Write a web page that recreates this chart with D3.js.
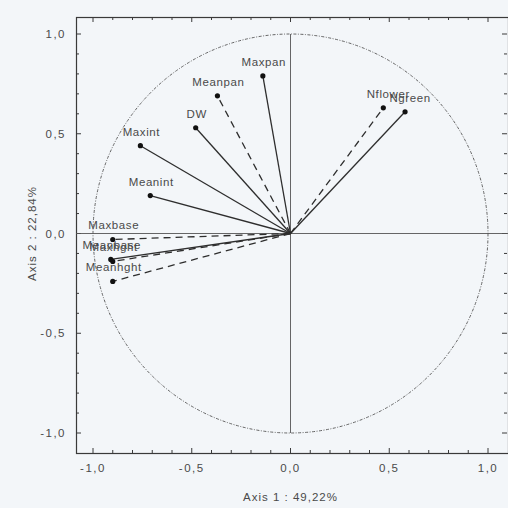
<!DOCTYPE html>
<html><head><meta charset="utf-8">
<script src="https://cdn.jsdelivr.net/npm/d3@7/dist/d3.min.js"></script>
<style>
html,body{margin:0;padding:0;background:#f3f6f9;}
svg{display:block;}
text{font-family:"Liberation Sans",Arial,sans-serif;fill:#4a4a4a;}
</style></head>
<body>
<svg id="c" width="508" height="508"></svg>
<script>
const variables = ["Maxpan","Meanpan","DW","Maxint","Meanint","Nflower","Ngreen","Maxbase","Meanbase","Maxhght","Meanhght"];
const axis1 = [-0.14,-0.37,-0.48,-0.76,-0.71,0.47,0.58,-0.90,-0.91,-0.90,-0.90];
const axis2 = [0.79,0.69,0.53,0.44,0.19,0.63,0.61,-0.03,-0.13,-0.14,-0.24];
const dashed = [false,true,false,false,false,true,false,true,false,true,true];
const tickValues = [-1.0,-0.5,0.0,0.5,1.0];
const tickLabels = ["-1,0","-0,5","0,0","0,5","1,0"];
const xTitle = "Axis 1 : 49,22%";
const yTitle = "Axis 2 : 22,84%";

const svg = d3.select("#c");
const L=76, R=508, T=17, B=453;
const x = d3.scaleLinear().domain([-1,1]).range([93,488]);
const y = d3.scaleLinear().domain([-1,1]).range([433,34]);

const ink="#3a3a3a";
svg.append("rect").attr("x",L+0.5).attr("y",T+0.5).attr("width",R-L).attr("height",B-T)
  .attr("fill","none").attr("stroke",ink).attr("stroke-width",1.2);

const minor = d3.range(-10,11).map(i=>i/10);
minor.forEach(v=>{
  const len = Math.abs(v*2-Math.round(v*2))<1e-6 ? 5 : 3;
  const px=x(v), py=y(v);
  svg.append("line").attr("x1",px).attr("x2",px).attr("y1",B).attr("y2",B-len).attr("stroke",ink);
  svg.append("line").attr("x1",px).attr("x2",px).attr("y1",T).attr("y2",T+len).attr("stroke",ink);
  svg.append("line").attr("y1",py).attr("y2",py).attr("x1",L).attr("x2",L+len).attr("stroke",ink);
  svg.append("line").attr("y1",py).attr("y2",py).attr("x1",R-1).attr("x2",R-1-len).attr("stroke",ink);
});

tickValues.forEach((v,i)=>{
  svg.append("text").attr("x",x(v)).attr("y",472).attr("text-anchor","middle")
    .attr("font-size",11.5).attr("letter-spacing",1.5).text(tickLabels[i]);
  svg.append("text").attr("x",66).attr("y",y(v)+4).attr("text-anchor","end")
    .attr("font-size",11.5).attr("letter-spacing",1.5).text(tickLabels[i]);
});
svg.append("text").attr("x",x(0)).attr("y",501).attr("text-anchor","middle").attr("font-size",11.5).attr("letter-spacing",1).text(xTitle);
svg.append("text").attr("transform",`translate(36,${y(0)}) rotate(-90)`).attr("text-anchor","middle").attr("font-size",11.5).attr("letter-spacing",1).text(yTitle);

svg.append("line").attr("x1",L).attr("x2",R).attr("y1",y(0)).attr("y2",y(0)).attr("stroke","#555").attr("stroke-width",0.9);
svg.append("line").attr("x1",x(0)).attr("x2",x(0)).attr("y1",y(1)).attr("y2",y(-1)).attr("stroke","#555").attr("stroke-width",0.9);

svg.append("ellipse").attr("cx",x(0)).attr("cy",y(0))
  .attr("rx",x(1)-x(0)).attr("ry",y(0)-y(1))
  .attr("fill","none").attr("stroke","#555").attr("stroke-width",0.9)
  .attr("stroke-dasharray","3,1.5,1,1.5");

const data = variables.map((n,i)=>({n,a:axis1[i],b:axis2[i],d:dashed[i]}));
svg.selectAll("line.v").data(data).join("line").attr("class","v")
  .attr("x1",x(0)).attr("y1",y(0)).attr("x2",d=>x(d.a)).attr("y2",d=>y(d.b))
  .attr("stroke","#2e2e2e").attr("stroke-width",1.3)
  .attr("stroke-dasharray",d=>d.d?"7,5":null);
svg.selectAll("circle.p").data(data).join("circle").attr("class","p")
  .attr("cx",d=>x(d.a)).attr("cy",d=>y(d.b)).attr("r",2.6).attr("fill","#111");
svg.selectAll("text.l").data(data).join("text").attr("class","l")
  .attr("x",d=>x(d.a)+(d.a>0?5:1)).attr("y",d=>y(d.b)-10).attr("text-anchor","middle")
  .attr("font-size",11.5).attr("letter-spacing",0.6).text(d=>d.n);
</script>
</body></html>
